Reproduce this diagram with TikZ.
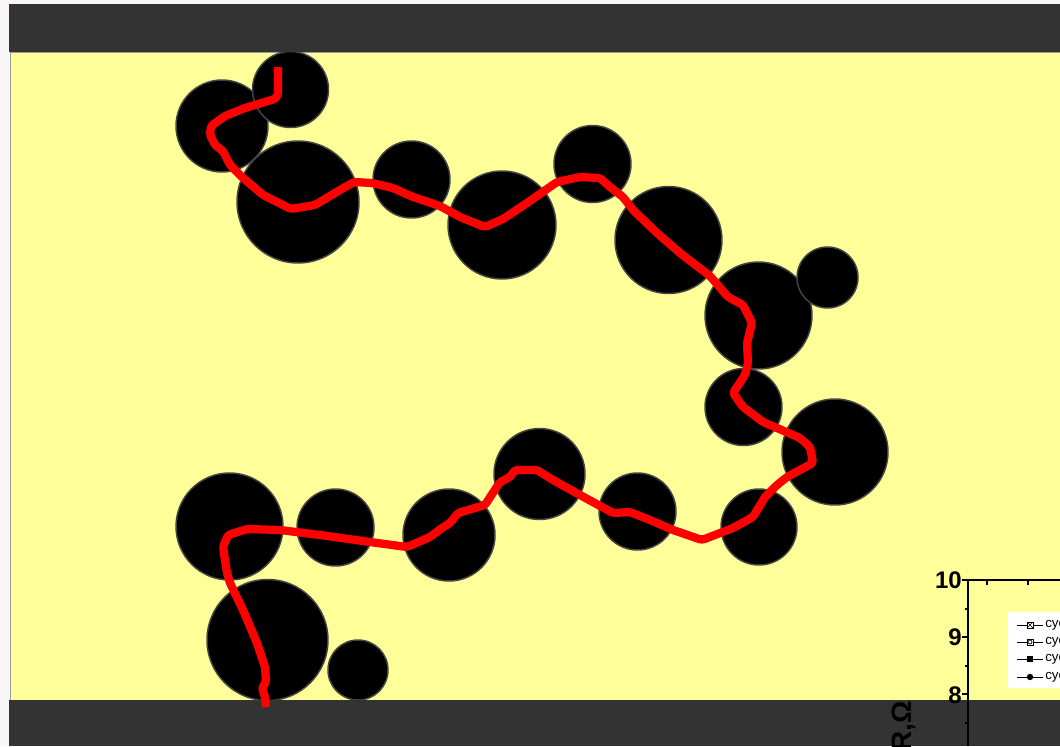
\documentclass[tikz,border=0pt]{standalone}
\usepackage{fontspec}
\setmainfont{Liberation Sans}
\usepackage{tikz}
\usetikzlibrary{positioning}
\definecolor{pyellow}{HTML}{FFFF99}
\definecolor{pband}{HTML}{333333}
\definecolor{ppage}{HTML}{F8F6F6}
\definecolor{pedge}{HTML}{454545}

\begin{document}
\begin{tikzpicture}[x=0.75pt, y=-0.75pt,
  grain/.style={fill=black, draw=pedge, line width=1.1pt},
  chain_/.style={draw=red, line width=6.2pt, line join=round, rounded corners=2pt},
  axis_/.style={draw=black, line width=1.3pt},
  ticklbl/.style={font=\bfseries\fontsize{18}{18}\selectfont, anchor=east, inner sep=0pt},
  leglbl/.style={font=\fontsize{10}{10}\selectfont, anchor=west, inner sep=0pt}
]
\useasboundingbox (0,0) rectangle (1060,746);
\fill[ppage] (0,0) rectangle (1060,746);
\filldraw[fill=pyellow, draw=gray!80, line width=0.6pt] (10,52) rectangle (1062,700);

% grains
\foreach \cx/\cy/\r in {222/126/46, 290.5/89.5/38, 298/202/61, 411.5/179.5/38.5,
  502/225/54, 592.5/164/38.5, 668.5/240/53.5, 758.5/315.5/53.5, 827.5/277.5/30.5,
  743.5/407/38.5, 835/452/53, 759/527/38, 637.5/511.5/38.5, 539.5/474/45.5,
  449/535/46, 335.5/527.5/38.5, 229.5/526.5/53.5, 267.5/640/60.5, 358/670/30}
  \filldraw[grain] (\cx,\cy) circle (\r);

% electrode bands
\fill[pband] (9,4) rectangle (1060,52);
\fill[pband] (9,700) rectangle (1060,746);

% conduction path
\draw[chain_] (278,67) -- (278,95) -- (275,99) -- (268,101) -- (245,108) -- (225,116)
  -- (211,126) -- (210,135) -- (215,145) -- (223,151) -- (230,165) -- (242,177)
  -- (263,195) -- (291,209) -- (315,205) -- (340,190) -- (354,182) -- (372,183)
  -- (393,188) -- (413,197) -- (440,206) -- (460,217) -- (485,227) -- (503,219)
  -- (527,203) -- (557,182) -- (580,177) -- (600,178) -- (610,187) -- (623,197)
  -- (633,210) -- (657,233) -- (680,253) -- (710,276) -- (728,297) -- (743,305)
  -- (752,323) -- (747,343) -- (748,363) -- (745,375) -- (733,393) -- (743,407)
  -- (763,422) -- (777,428) -- (800,438) -- (810,447) -- (813,463) -- (787,477)
  -- (777,485) -- (765,497) -- (753,517) -- (733,528) -- (702,540) -- (673,530)
  -- (650,520) -- (630,512) -- (613,513) -- (580,495) -- (553,480) -- (537,470)
  -- (515,470) -- (510,477) -- (500,482) -- (485,505) -- (458,513) -- (450,523)
  -- (442,528) -- (430,537) -- (407,547) -- (370,542) -- (320,535) -- (280,530)
  -- (247,529) -- (228,535) -- (223,547) -- (227,573) -- (230,583) -- (243,610)
  -- (257,643) -- (265,667) -- (266,682) -- (262,688) -- (265,697) -- (266,707);

% chart fragment
\coordinate (origin) at (968,580);
\draw[axis_] (968,746) -- (origin) -- (1060,580);
\foreach \ty in {580,637,694,751} \draw[axis_] (962,\ty) -- (968,\ty);
\foreach \ty in {609,666,723} \draw[axis_] (965,\ty) -- (968,\ty);
\foreach \tx in {987,1028} \draw[axis_] (\tx,580) -- (\tx,585);
\node[ticklbl] (t10) at (962,580) {10};
\node[ticklbl] (t9) at (962,637) {9};
\node[ticklbl] (t8) at (962,695) {8};
\node[font=\bfseries\fontsize{21}{21}\selectfont, rotate=90, anchor=east, inner sep=0pt]
  (ylbl) at (904,701) {R,Ω};

\fill[white] (1008,612) rectangle (1060,688);
\foreach \ly in {625,642,659,677} \draw[line width=0.6pt] (1017,\ly) -- (1043,\ly);
\filldraw[fill=white, draw=black, line width=0.5pt] (1027,622) rectangle (1033,628);
\draw[line width=0.5pt] (1027,622) -- (1033,628) (1027,628) -- (1033,622);
\filldraw[fill=white, draw=black, line width=0.5pt] (1027,639) rectangle (1033,645);
\draw[line width=0.5pt] (1030,642) circle (2);
\fill[black] (1027,656) rectangle (1033,662);
\fill[black] (1030,677) circle (3.2);
\node[leglbl] (lg1) at (1045,625) {cyc};
\node[leglbl] (lg2) at (1045,642) {cyc};
\node[leglbl] (lg3) at (1045,659) {cyc};
\node[leglbl] (lg4) at (1045,677) {cyc};
\end{tikzpicture}
\end{document}
